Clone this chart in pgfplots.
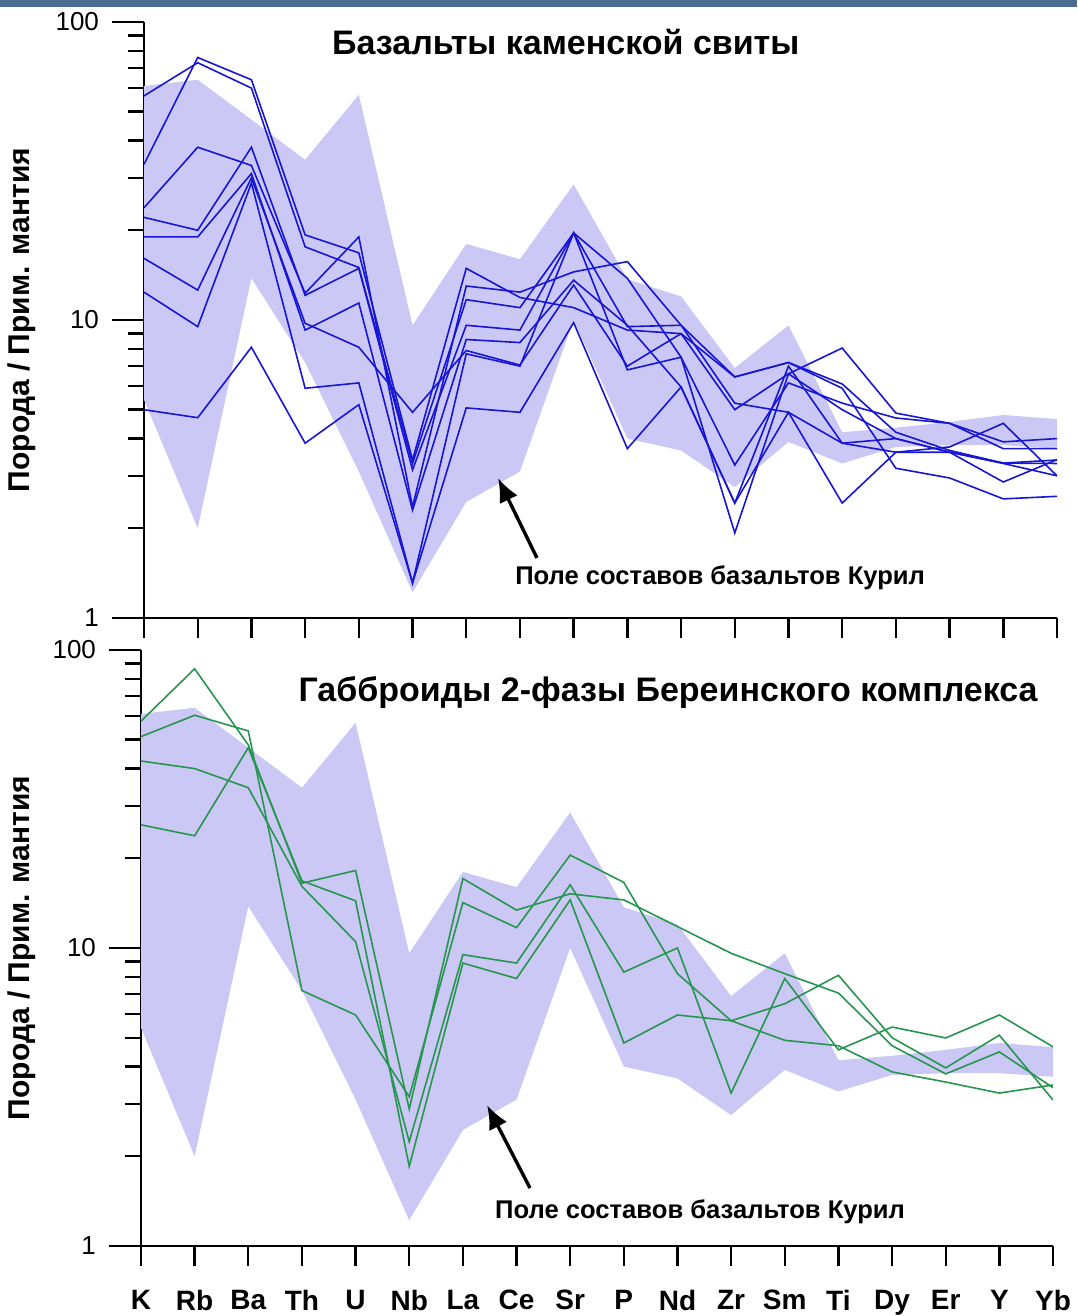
\documentclass[border=0pt]{standalone}
\usepackage{fontspec}
\setmainfont{Liberation Sans}
\usepackage{pgfplots}
\usepackage{pgfplotstable}
\pgfplotsset{compat=1.18}
\usetikzlibrary{arrows.meta}
\definecolor{field}{RGB}{204,200,246}
\definecolor{blueline}{RGB}{22,22,212}
\definecolor{greenline}{RGB}{38,150,78}
\definecolor{topbar}{RGB}{74,106,146}

\pgfplotstableread{
x b1 b2 b3 b4 b5 b6 b7 b8
0 56.5 33.3 23.8 22.1 19.0 16.1 12.4 5.0
1 73 76 38 20 19 12.6 9.5 4.7
2 60 64 33 38 31 30 28.8 8.1
3 17.6 19.3 12.3 12.1 9.25 9.75 5.9 3.86
4 15 16.8 19 14.9 11.4 8.1 6.15 5.2
5 3.3 3.39 2.36 3.14 2.3 4.9 1.31 1.31
6 11.7 14.9 13.0 9.6 8.6 7.9 7.7 5.07
7 11.0 11.9 12.4 9.25 8.4 7.06 7.0 4.9
8 19.6 11.0 14.5 19.6 13.6 13.1 19.6 9.8
9 9.5 9.25 15.7 13.8 9.6 7.0 6.8 3.7
10 9.6 9.0 9.6 7.5 5.96 9.0 7.5 5.96
11 6.44 5.0 5.26 3.26 2.43 6.44 1.93 2.43
12 7.2 6.6 4.9 6.15 7.0 7.2 6.6 4.9
13 6.1 8.05 3.86 5.26 3.86 5.9 5.0 2.43
14 4.2 4.87 4.0 4.69 3.6 3.18 4.0 3.6
15 3.65 4.5 3.6 4.5 3.75 2.95 3.6 3.6
16 3.31 3.9 2.86 3.7 4.5 2.51 3.31 3.3
17 3.3 4.0 3.4 3.7 3.0 2.56 3.39 3.0
}\toptab

\pgfplotstableread{
x g1 g2 g3 g4
0 57.7 51.2 42.4 25.9
1 86.5 60.4 40 23.8
2 48 53.5 34.5 47
3 16.5 7.2 16.1 16.8
4 18.2 5.96 10.5 14.4
5 2.88 3.17 2.24 1.85
6 17.1 14.2 9.5 8.9
7 13.4 11.7 8.9 7.9
8 15.2 20.5 16.3 14.5
9 14.5 16.6 8.3 4.8
10 11.8 8.2 10 5.96
11 9.6 5.7 3.26 5.7
12 8.2 6.5 7.9 4.9
13 7.06 8.1 4.55 4.7
14 4.7 5.0 5.43 3.84
15 3.78 3.96 4.99 3.55
16 4.48 5.1 5.96 3.26
17 3.4 3.09 4.66 3.47
}\bottab

\begin{document}
\begin{tikzpicture}
\useasboundingbox (0,0) rectangle (538.5pt,658pt);
\fill[topbar] (0,654.5pt) rectangle (538.5pt,658pt);

% ---------------- top panel ----------------
\begin{axis}[scale only axis, width=456.5pt, height=298pt,
  at={(72pt,349pt)}, anchor=south west,
  xmin=0, xmax=17, ymode=log, ymin=1, ymax=100,
  axis lines*=left,
  axis line style={line width=1.3pt, black},
  tick align=outside,
  major tick length=16pt, minor tick length=8pt,
  tick style={line width=1.2pt, black},
  xtick style={/pgfplots/major tick length=10pt},
  xtick={0,...,17}, xticklabels={},
  ytick={1,10,100}, yticklabels={1,10,100},
  yticklabel style={font=\fontsize{13}{15}\selectfont, anchor=east, xshift=-3pt},
  ylabel={Порода / Прим. мантия},
  ylabel style={font=\fontsize{15}{18}\selectfont\bfseries, at={(axis description cs:-0.1336,0.5)}, anchor=center},
]
% field of Kuril basalts: upper limit K..Yb, then lower limit Yb..K
\addplot[fill=field, draw=none, forget plot] coordinates {(0,61)(1,64)(2,47)(3,34.5)(4,57)(5,9.6)(6,18)(7,16)(8,28.5)(9,13.7)(10,12)(11,6.9)(12,9.6)(13,4.2)(14,4.35)(15,4.55)(16,4.8)(17,4.65)(17,3.7)(16,3.8)(15,3.8)(14,3.75)(13,3.3)(12,3.9)(11,2.75)(10,3.65)(9,4.0)(8,10)(7,3.1)(6,2.45)(5,1.22)(4,3.1)(3,7.2)(2,13.8)(1,2.0)(0,5.4)};
\addplot[blueline, line width=0.8pt] table[x=x,y=b1]{\toptab};
\addplot[blueline, line width=0.8pt] table[x=x,y=b2]{\toptab};
\addplot[blueline, line width=0.8pt] table[x=x,y=b3]{\toptab};
\addplot[blueline, line width=0.8pt] table[x=x,y=b4]{\toptab};
\addplot[blueline, line width=0.8pt] table[x=x,y=b5]{\toptab};
\addplot[blueline, line width=0.8pt] table[x=x,y=b6]{\toptab};
\addplot[blueline, line width=0.8pt] table[x=x,y=b7]{\toptab};
\addplot[blueline, line width=0.8pt] table[x=x,y=b8]{\toptab};
\node[font=\fontsize{17}{20}\selectfont\bfseries] at (rel axis cs:0.462,0.966) {Базальты каменской свиты};
\node[font=\fontsize{12.8}{15}\selectfont\bfseries] at (rel axis cs:0.631,0.067) {Поле составов базальтов Курил};
\draw[line width=1.7pt, -{Latex[length=12pt,width=10pt]}] (rel axis cs:0.4304,0.1007) -- (rel axis cs:0.3877,0.2349);
\end{axis}

% ---------------- bottom panel ----------------
\begin{axis}[scale only axis, width=456pt, height=298pt,
  at={(70.5pt,35pt)}, anchor=south west,
  xmin=0, xmax=17, ymode=log, ymin=1, ymax=100,
  axis lines*=left,
  axis line style={line width=1.3pt, black},
  tick align=outside,
  major tick length=16pt, minor tick length=8pt,
  tick style={line width=1.2pt, black},
  xtick style={/pgfplots/major tick length=10pt},
  xtick={0,...,17},
  xticklabels={K,Rb,Ba,Th,U,Nb,La,Ce,Sr,P,Nd,Zr,Sm,Ti,Dy,Er,Y,Yb},
  xticklabel style={font=\fontsize{14}{16}\selectfont\bfseries, anchor=north, yshift=-2.5pt},
  ytick={1,10,100}, yticklabels={1,10,100},
  yticklabel style={font=\fontsize{13}{15}\selectfont, anchor=east, xshift=-3pt},
  ylabel={Порода / Прим. мантия},
  ylabel style={font=\fontsize{15}{18}\selectfont\bfseries, at={(axis description cs:-0.1305,0.5)}, anchor=center},
]
\addplot[fill=field, draw=none, forget plot] coordinates {(0,61)(1,64)(2,47)(3,34.5)(4,57)(5,9.6)(6,18)(7,16)(8,28.5)(9,13.7)(10,12)(11,6.9)(12,9.6)(13,4.2)(14,4.35)(15,4.55)(16,4.8)(17,4.65)(17,3.7)(16,3.8)(15,3.8)(14,3.75)(13,3.3)(12,3.9)(11,2.75)(10,3.65)(9,4.0)(8,10)(7,3.1)(6,2.45)(5,1.22)(4,3.1)(3,7.2)(2,13.8)(1,2.0)(0,5.4)};
\addplot[greenline, line width=0.8pt] table[x=x,y=g1]{\bottab};
\addplot[greenline, line width=0.8pt] table[x=x,y=g2]{\bottab};
\addplot[greenline, line width=0.8pt] table[x=x,y=g3]{\bottab};
\addplot[greenline, line width=0.8pt] table[x=x,y=g4]{\bottab};
\node[font=\fontsize{17}{20}\selectfont\bfseries] at (rel axis cs:0.578,0.928) {Габброиды 2-фазы Береинского комплекса};
\node[font=\fontsize{12.8}{15}\selectfont\bfseries] at (rel axis cs:0.613,0.057) {Поле составов базальтов Курил};
\draw[line width=1.7pt, -{Latex[length=12pt,width=10pt]}] (rel axis cs:0.4265,0.0973) -- (rel axis cs:0.3794,0.2366);
\end{axis}
\end{tikzpicture}
\end{document}
